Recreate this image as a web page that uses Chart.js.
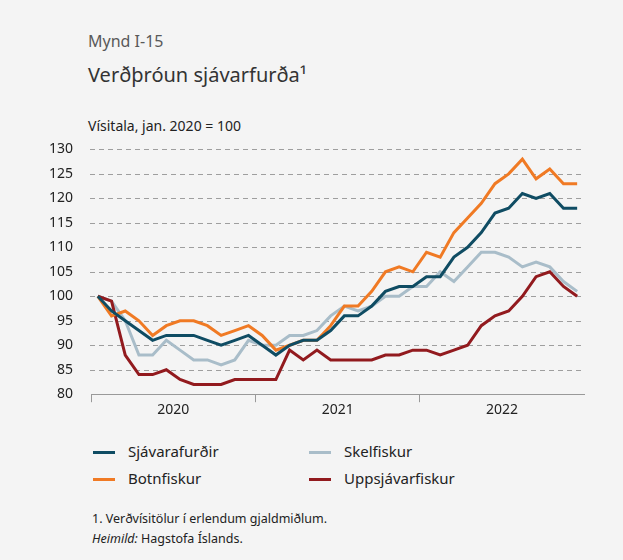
<!DOCTYPE html>
<html lang="is">
<head>
<meta charset="utf-8">
<script src="https://cdn.jsdelivr.net/npm/chart.js@4.4.1/dist/chart.umd.min.js"></script>
<style>
  body { margin: 0; background: #f4f4f4; font-family: "Noto Sans", sans-serif; color: #333; }
  #page { position: relative; width: 623px; height: 560px; overflow: hidden; }
  .txt { position: absolute; left: 88px; white-space: nowrap; line-height: 1; }
  #chartBox { position: absolute; left: 50px; top: 131px; width: 540px; height: 286px; }
  .leg { position: absolute; font-size: 15px; line-height: 15px; white-space: nowrap; color: #222; }
  .leg i { position: absolute; left: -35px; top: 7px; width: 22px; height: 3px; }
</style>
</head>
<body>
<div id="page">
  <div class="txt" style="top:33px;font-size:16px;color:#595959;">Mynd I-15</div>
  <div class="txt" style="top:65px;font-size:20px;color:#333;">Verðþróun sjávarfurða¹</div>
  <div class="txt" style="top:119px;font-size:14px;color:#222;">Vísitala, jan. 2020 = 100</div>
  <div id="chartBox"><canvas id="chart"></canvas></div>
  <div id="legend"></div>
  <div class="txt" style="left:92px;top:513px;font-size:12.5px;color:#222;">1. Verðvísitölur í erlendum gjaldmiðlum.</div>
  <div class="txt" style="left:92px;top:533px;font-size:12.5px;color:#222;"><em>Heimild:</em> Hagstofa Íslands.</div>
</div>
<script>
const years = ["2020", "2021", "2022"];
const months = ["jan", "feb", "mar", "apr", "maí", "jún", "júl", "ágú", "sep", "okt", "nóv", "des"];

const seriesNames = ["Sjávarafurðir", "Botnfiskur", "Skelfiskur", "Uppsjávarfiskur"];

const sjavarafurdir = [100, 97, 95, 93, 91, 92, 92, 92, 91, 90, 91, 92,
  90, 88, 90, 91, 91, 93, 96, 96, 98, 101, 102, 102,
  104, 104, 108, 110, 113, 117, 118, 121, 120, 121, 118, 118];
const botnfiskur = [100, 96, 97, 95, 92, 94, 95, 95, 94, 92, 93, 94,
  92, 89, 90, 91, 91, 94, 98, 98, 101, 105, 106, 105,
  109, 108, 113, 116, 119, 123, 125, 128, 124, 126, 123, 123];
const skelfiskur = [100, 99, 95, 88, 88, 91, 89, 87, 87, 86, 87, 91,
  90, 90, 92, 92, 93, 96, 98, 97, 98, 100, 100, 102,
  102, 105, 103, 106, 109, 109, 108, 106, 107, 106, 103, 101];
const uppsjavarfiskur = [100, 99, 88, 84, 84, 85, 83, 82, 82, 82, 83, 83,
  83, 83, 89, 87, 89, 87, 87, 87, 87, 88, 88, 89,
  89, 88, 89, 90, 94, 96, 97, 100, 104, 105, 102, 100];

const yMin = 80, yMax = 130, yStep = 5;

// styles kept apart from the data
const colors = ["#0f4c63", "#f07a24", "#a9bdc9", "#921a1e"];
// draw order: grey and red under, orange then teal on top
const drawOrder = [2, 3, 1, 0];
const values = [sjavarafurdir, botnfiskur, skelfiskur, uppsjavarfiskur];

const labels = [];
years.forEach(y => months.forEach(m => labels.push(m + ". " + y)));

// ----- legend (two columns) -----
const legendPos = [[128, 444], [128, 471], [344, 444], [344, 471]];
const legendEl = document.getElementById("legend");
seriesNames.forEach((name, i) => {
  const d = document.createElement("div");
  d.className = "leg";
  d.style.left = legendPos[i][0] + "px";
  d.style.top = legendPos[i][1] + "px";
  d.innerHTML = '<i style="background:' + colors[i] + '"></i>' + name;
  legendEl.appendChild(d);
});

// dashed horizontal grid, drawn from the y scale's own ticks
const dashedGrid = {
  id: "dashedGrid",
  beforeDatasetsDraw(chart) {
    const { ctx, chartArea, scales } = chart;
    ctx.save();
    ctx.strokeStyle = "#9e9e9e";
    ctx.lineWidth = 1;
    ctx.setLineDash([5, 4]);
    scales.y.ticks.forEach(t => {
      if (t.value === yMin) return;
      const y = Math.round(scales.y.getPixelForValue(t.value)) + 0.5;
      ctx.beginPath();
      ctx.moveTo(chartArea.left - 1, y);
      ctx.lineTo(chartArea.right, y);
      ctx.stroke();
    });
    ctx.restore();
  }
};

// ----- chart -----
Chart.defaults.font.family = '"Noto Sans", sans-serif';
Chart.defaults.color = "#222";

new Chart(document.getElementById("chart"), {
  type: "line",
  data: {
    labels: labels,
    datasets: seriesNames.map((name, i) => ({
      label: name,
      data: values[i],
      borderColor: colors[i],
      borderWidth: 3,
      pointRadius: 0,
      tension: 0,
      order: drawOrder.indexOf(i) * -1
    }))
  },
  options: {
    responsive: true,
    maintainAspectRatio: false,
    animation: false,
    layout: { padding: { right: 6 } },
    plugins: {
      legend: { display: false },
      tooltip: { enabled: false }
    },
    scales: {
      x: {
        offset: true,
        grid: {
          offset: true,
          drawOnChartArea: false,
          drawTicks: true,
          tickLength: 8,
          color: (ctx) => (ctx.index % 12 === 0 ? "#999" : "rgba(0,0,0,0)")
        },
        border: { display: true, color: "#999", width: 1 },
        ticks: {
          autoSkip: false,
          maxRotation: 0,
          minRotation: 0,
          padding: -1,
          labelOffset: 7,
          font: { size: 14 },
          color: "#222",
          callback: (val, i) => (i % 12 === 5 ? years[Math.floor(i / 12)] : "")
        }
      },
      y: {
        min: yMin,
        max: yMax,
        afterFit: (s) => { s.width = 41; },
        border: { display: false },
        grid: { display: false },
        ticks: {
          stepSize: yStep,
          padding: 10,
          font: { size: 14 },
          color: "#222"
        }
      }
    }
  },
  plugins: [dashedGrid]
});
</script>
</body>
</html>
